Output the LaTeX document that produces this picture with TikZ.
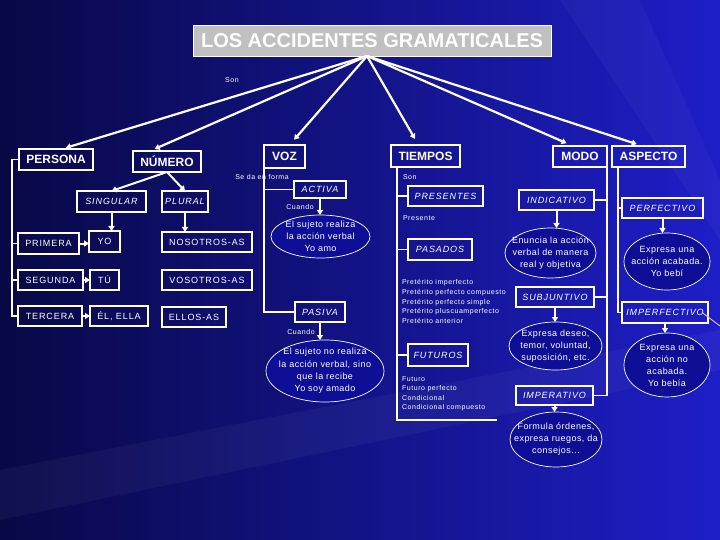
\documentclass[tikz,border=0pt]{standalone}
\usepackage{fontspec}
\setmainfont{Liberation Sans}
\usetikzlibrary{shapes.geometric,arrows.meta}
\definecolor{bgdark}{RGB}{8,8,70}
\definecolor{bgmid}{RGB}{12,12,140}
\definecolor{bglight}{RGB}{30,30,200}
\definecolor{ovalblue}{RGB}{14,14,150}
\definecolor{titlegray}{RGB}{192,192,192}
\newcommand{\sz}[2]{\fontsize{#1}{#2}\selectfont}
\begin{document}
\begin{tikzpicture}[x=1pt,y=-1pt,inner sep=0pt,outer sep=0pt,>={Triangle[length=5pt,width=6pt]},
box/.style={draw=white,rectangle,line width=1.1pt,text=white,font=\sz{9}{11}\addfontfeature{LetterSpace=10}},
headbox/.style={box,font=\sz{12}{14}\bfseries},
kindbox/.style={box,font=\sz{9}{11}\itshape\addfontfeature{LetterSpace=10}},
oval/.style={ellipse,draw=white,line width=0.7pt,fill=ovalblue},
ovaltext/.style={text=white,align=center,font=\sz{9}{12}\addfontfeature{LetterSpace=5}},
note/.style={text=white,align=left,font=\sz{7}{9.6}\addfontfeature{LetterSpace=8}},
link/.style={draw=white,line width=1.1pt},
bigarrow/.style={->,white,line width=2.2pt},
smallarrow/.style={->,white,line width=2pt}]
\useasboundingbox (0,0) rectangle (720,540);
\shade[left color=bgdark,middle color=bgmid,right color=bglight] (0,0) rectangle (720,540);
\fill[white,opacity=0.04] (0,470) -- (720,330) -- (720,370) -- (0,520) -- cycle;
\fill[white,opacity=0.03] (560,0) -- (640,0) -- (720,180) -- (720,240) -- cycle;

% title and main headings
\draw (372,40.5) node[draw=white,line width=0.8pt,fill=titlegray,minimum width=358,minimum height=31,text=white,font=\sz{20}{22}\bfseries] (title) {LOS ACCIDENTES GRAMATICALES};
\draw (232,80) node[note] (son1) {Son};
\draw (56,159.5) node[headbox,minimum width=74,minimum height=21] (persona) {PERSONA};
\draw (167,161.5) node[headbox,minimum width=68,minimum height=21] (numero) {NÚMERO};
\draw (284.5,156.5) node[headbox,minimum width=41,minimum height=23] (voz) {VOZ};
\draw (425.5,156) node[headbox,minimum width=69,minimum height=22] (tiempos) {TIEMPOS};
\draw (580,156.5) node[headbox,minimum width=54,minimum height=21] (modo) {MODO};
\draw (648.5,156.5) node[headbox,minimum width=73,minimum height=21] (aspecto) {ASPECTO};

\draw[bigarrow,shorten >=4pt] ([xshift=-5pt]title.south) -- ([xshift=6pt]persona.north);
\draw[bigarrow,shorten >=5pt] ([xshift=-5pt]title.south) -- ([xshift=17pt]numero.north west);
\draw[bigarrow,shorten >=7pt] ([xshift=-5pt]title.south) -- ([xshift=5pt]voz.north);
\draw[bigarrow,shorten >=7pt] ([xshift=-5pt]title.south) -- ([xshift=-7pt]tiempos.north);
\draw[bigarrow,shorten >=7pt] ([xshift=-5pt]title.south) -- ([xshift=-7pt]modo.north);
\draw[bigarrow,shorten >=6pt] ([xshift=-5pt]title.south) -- ([xshift=-6pt]aspecto.north);

% persona and numero
\draw (111.5,201.5) node[kindbox,minimum width=69,minimum height=21] (singular) {SINGULAR};
\draw (185,201.5) node[kindbox,minimum width=46,minimum height=21] (plural) {PLURAL};
\draw (48.5,243.5) node[box,minimum width=61,minimum height=21] (primera) {PRIMERA};
\draw (50.5,280) node[box,minimum width=65,minimum height=20] (segunda) {SEGUNDA};
\draw (50,316) node[box,minimum width=64,minimum height=20] (tercera) {TERCERA};
\draw (104.5,241.5) node[box,minimum width=31,minimum height=21] (yo) {YO};
\draw (104.5,280) node[box,minimum width=29,minimum height=20] (tu) {TÚ};
\draw (119,316) node[box,minimum width=58,minimum height=20] (el) {ÉL, ELLA};
\draw (207,242) node[box,minimum width=90,minimum height=20] (nosotros) {NOSOTROS-AS};
\draw (207,280) node[box,minimum width=90,minimum height=20] (vosotros) {VOSOTROS-AS};
\draw (194,317) node[box,minimum width=64,minimum height=20] (ellos) {ELLOS-AS};

\draw[link] (persona.west) -- ++(-7,0) coordinate (pk) -- (pk |- tercera.west) -- (tercera.west);
\draw[link] (primera.west) -- (primera.west -| pk);
\draw[link] (segunda.west) -- (segunda.west -| pk);
\draw[smallarrow] (numero.south) -- (singular.north);
\draw[smallarrow] (numero.south) -- (plural.north);
\draw[smallarrow] (singular.south) -- (singular.south |- yo.north);
\draw[smallarrow] (plural.south) -- (plural.south |- nosotros.north);
\draw[smallarrow] (primera.east) -- (primera.east -| yo.west);
\draw[smallarrow] (segunda.east) -- (tu.west);
\draw[smallarrow] (tercera.east) -- (el.west);

% voz
\draw (262,177) node[note] (forma) {Se da en forma};
\draw (320,189.5) node[kindbox,minimum width=52,minimum height=17] (activa) {ACTIVA};
\draw (300,207) node[note] (cuando1) {Cuando};
\draw (320.5,236.5) node[oval,minimum width=99,minimum height=43,label={[ovaltext]center:{El sujeto realiza\\la acción verbal\\Yo amo}}] (e1) {};
\draw (320,312) node[kindbox,minimum width=50,minimum height=20] (pasiva) {PASIVA};
\draw (301,332) node[note] (cuando2) {Cuando};
\draw (325,371) node[oval,minimum width=118,minimum height=62,label={[ovaltext,font=\sz{9}{12.3}\addfontfeature{LetterSpace=5}]center:{El sujeto no realiza\\la acción verbal, sino\\que la recibe\\Yo soy amado}}] (e2) {};

\draw[link] (voz.south west) |- (pasiva.west);
\draw[link] (activa.west) -- (activa.west -| voz.west);
\draw[smallarrow] (activa.south) -- (activa.south |- e1.north);
\draw[smallarrow] (pasiva.south) -- (pasiva.south |- e2.north);

% tiempos
\draw (403,177) node[note,anchor=west] (son2) {Son};
\draw (445.5,196) node[kindbox,minimum width=75,minimum height=20] (presentes) {PRESENTES};
\draw (403,218) node[note,anchor=west] (presente) {Presente};
\draw (440,249.5) node[kindbox,minimum width=64,minimum height=21] (pasados) {PASADOS};
\draw (402,301.5) node[note,anchor=west,font=\sz{7}{9.75}\addfontfeature{LetterSpace=8}] (preteritos) {Pretérito imperfecto\\Pretérito perfecto compuesto\\Pretérito perfecto simple\\Pretérito pluscuamperfecto\\Pretérito anterior};
\draw (438,355) node[kindbox,minimum width=60,minimum height=22] (futuros) {FUTUROS};
\draw (402,394) node[note,anchor=west,font=\sz{7}{9.4}\addfontfeature{LetterSpace=8}] (futurolist) {Futuro\\Futuro perfecto\\Condicional\\Condicional compuesto};

\coordinate (tv) at ([xshift=6pt]tiempos.south west);
\coordinate (tbase) at (497,420);
\draw[link] (tv) |- (tbase);
\draw[link] (presentes.west) -- (presentes.west -| tv);
\draw[link] (pasados.west) -- (pasados.west -| tv);
\draw[link] (futuros.west) -- (futuros.west -| tv);

% modo
\draw (556.5,200) node[kindbox,minimum width=75,minimum height=20] (indicativo) {INDICATIVO};
\draw (550.5,253) node[oval,minimum width=91,minimum height=50,label={[ovaltext]center:{Enuncia la acción\\verbal de manera\\real y objetiva}}] (e3) {};
\draw (555,297) node[kindbox,minimum width=78,minimum height=20] (subjuntivo) {SUBJUNTIVO};
\draw (555.5,346) node[oval,minimum width=93,minimum height=48,label={[ovaltext]center:{Expresa deseo,\\temor, voluntad,\\suposición, etc.}}] (e4) {};
\draw (554.5,395.5) node[kindbox,minimum width=77,minimum height=19] (imperativo) {IMPERATIVO};
\draw (556,439.5) node[oval,minimum width=92,minimum height=55,label={[ovaltext]center:{Formula órdenes,\\expresa ruegos, da\\consejos...}}] (e5) {};

\draw[link] (modo.south east) |- (imperativo.east);
\draw[link] (indicativo.east) -- (indicativo.east -| modo.east);
\draw[link] (subjuntivo.east) -- (subjuntivo.east -| modo.east);
\draw[smallarrow] (indicativo.south) -- (indicativo.south |- e3.north);
\draw[smallarrow] (subjuntivo.south) -- (subjuntivo.south |- e4.north);
\draw[smallarrow] (imperativo.south) -- (imperativo.south |- e5.north);

% aspecto
\draw (662.5,208) node[kindbox,minimum width=81,minimum height=20] (perfectivo) {PERFECTIVO};
\draw (667,261.5) node[oval,minimum width=86,minimum height=57,label={[ovaltext]center:{Expresa una\\acción acabada.\\Yo bebí}}] (e6) {};
\draw (665,312.5) node[kindbox,minimum width=86,minimum height=21] (imperfectivo) {IMPERFECTIVO};
\draw (667,365) node[oval,minimum width=86,minimum height=64,label={[ovaltext]center:{Expresa una\\acción no\\acabada.\\Yo bebía}}] (e7) {};

\coordinate (av) at ([xshift=6pt]aspecto.south west);
\draw[link] (av) |- (imperfectivo.west);
\draw[link] (perfectivo.west) -- (perfectivo.west -| av);
\draw[smallarrow] (perfectivo.south) -- (perfectivo.south |- e6.north);
\draw[smallarrow] (imperfectivo.south) -- (imperfectivo.south |- e7.north);
\coordinate (rimcut) at (720,326);
\draw[pink!70!white,line width=0.8pt] ([xshift=-6pt]imperfectivo.east) -- (rimcut);
\end{tikzpicture}
\end{document}
